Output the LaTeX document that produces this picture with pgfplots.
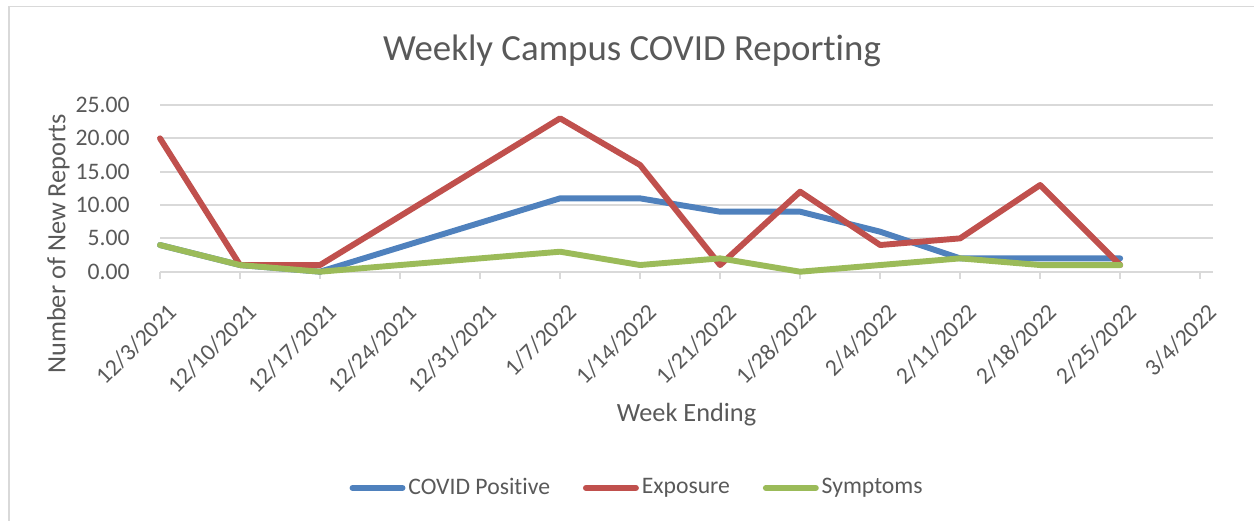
\documentclass[border=0pt]{standalone}
\usepackage{pgfplots}
\pgfplotsset{compat=1.18}
\usepackage{fontspec}
\setmainfont{Carlito}[Ligatures=NoCommon]
\definecolor{cblue}{HTML}{4F81BD}
\definecolor{cred}{HTML}{C0504D}
\definecolor{cgreen}{HTML}{9BBB59}
\definecolor{txt}{HTML}{595959}
\definecolor{grid}{HTML}{D9D9D9}
\begin{document}
\begin{tikzpicture}
\useasboundingbox (0,0) rectangle (476.52pt,197.98pt);
\draw[color=grid, line width=0.6pt] (3.42pt,-10pt) -- (3.42pt,195.5pt) -- (490pt,195.5pt);
\begin{axis}[
  at={(60.8pt,94.73pt)}, anchor=south west,
  scale only axis, width=400.14pt, height=63.35pt,
  xmin=0, xmax=13.16, ymin=0, ymax=25,
  clip=false,
  axis lines=left,
  axis line style={-},
  y axis line style={draw=none},
  x axis line style={draw=grid, line width=0.75pt},
  xtick={0,...,13},
  xticklabels={12/3/2021,12/10/2021,12/17/2021,12/24/2021,12/31/2021,1/7/2022,1/14/2022,1/21/2022,1/28/2022,2/4/2022,2/11/2022,2/18/2022,2/25/2022,3/4/2022},
  ytick={0,5,...,25},
  ymajorgrids,
  grid style={draw=grid, line width=0.75pt},
  tick align=outside,
  major tick length=2.66pt,
  xtick style={draw=grid, line width=0.75pt},
  ytick style={draw=none},
  /pgf/number format/assume math mode=true,
  yticklabel={\pgfmathprintnumber[fixed,fixed zerofill,precision=2]{\tick}},
  ticklabel style={font=\fontsize{9}{11}\selectfont, text=txt},
  yticklabel style={inner sep=0pt, anchor=east, xshift=-8.7pt},
  xticklabel style={inner sep=0pt, anchor=east, xshift=4.94pt, yshift=-11.02pt, rotate=45},
  legend columns=3,
  legend style={draw=none, fill=none, font=\fontsize{9}{11}\selectfont, text=txt,
    at={(axis description cs:0.4535,-1.297)}, anchor=center,
    nodes={inner xsep=1.1pt},
    /tikz/every even column/.append style={column sep=11.4pt}},
  legend cell align=left,
  legend image code/.code={\draw[#1, line cap=round] (0pt,0pt) -- (19pt,0pt);},
  every axis plot/.append style={line width=2.25pt, line join=round, line cap=round, mark=none},
]
\addplot[cblue] coordinates {(0,4) (1,1) (2,0) (5,11) (6,11) (7,9) (8,9) (9,6) (10,2) (11,2) (12,2)};
\addlegendentry{COVID Positive}
\addplot[cred] coordinates {(0,20) (1,1) (2,1) (5,23) (6,16) (7,1) (8,12) (9,4) (10,5) (11,13) (12,1)};
\addlegendentry{Exposure}
\addplot[cgreen] coordinates {(0,4) (1,1) (2,0) (5,3) (6,1) (7,2) (8,0) (9,1) (10,2) (11,1) (12,1)};
\addlegendentry{Symptoms}
\end{axis}
\node[anchor=base, text=txt, font=\fontsize{14}{17}\selectfont] at (240.16pt,175pt) {Weekly Campus COVID Reporting};
\node[anchor=base, text=txt, font=\fontsize{10}{12}\selectfont, inner sep=0pt] at (260.87pt,37.81pt) {Week Ending};
\node[anchor=base, rotate=90, text=txt, font=\fontsize{10}{12}\selectfont, inner sep=0pt] at (24.89pt,105.26pt) {Number of New Reports};
\end{tikzpicture}
\end{document}
